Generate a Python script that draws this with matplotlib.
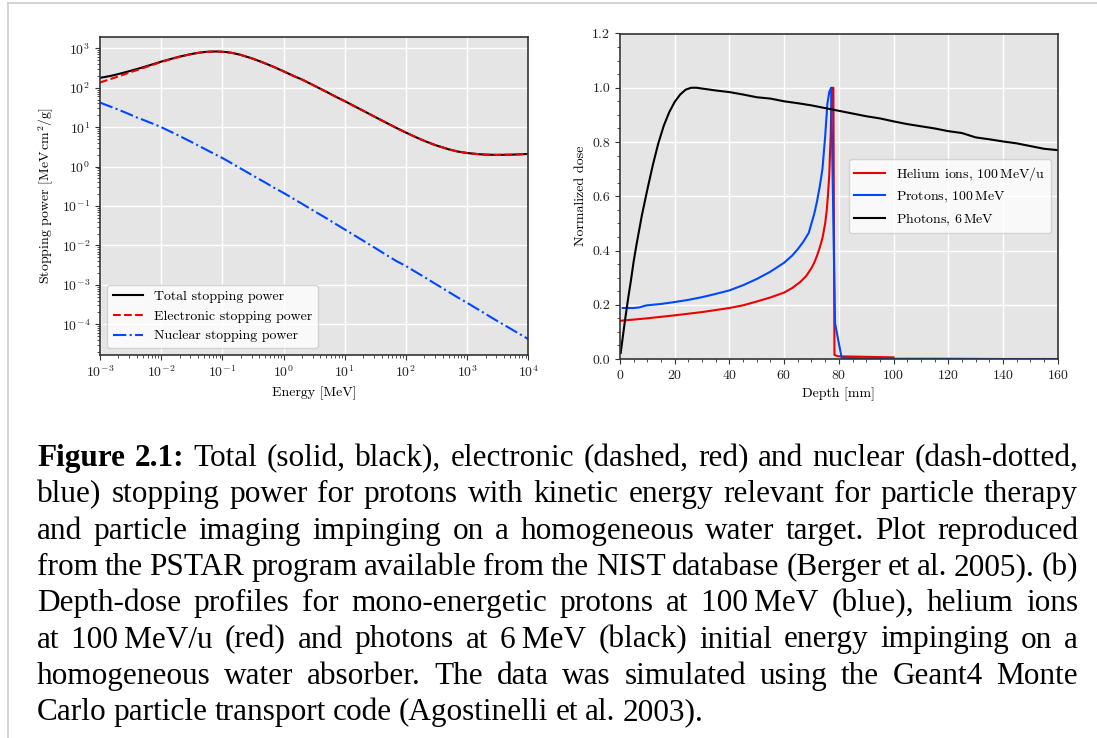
import numpy as np
import matplotlib
matplotlib.use("Agg")
from matplotlib import pyplot as plt
from matplotlib.lines import Line2D
from matplotlib.ticker import LogLocator, MultipleLocator, NullFormatter

# --- stopping power of protons in water (PSTAR), MeV cm^2/g ---
energy = [1e-3, 1.5e-3, 2e-3, 3e-3, 4e-3, 5e-3, 6e-3, 8e-3, 1e-2, 1.5e-2, 2e-2,
          3e-2, 4e-2, 5e-2, 6e-2, 7e-2, 8e-2, 9e-2, 0.1, 0.125, 0.15, 0.2, 0.3,
          0.4, 0.5, 0.7, 1, 1.5, 2, 3, 4, 5, 7, 10, 15, 20, 30, 50, 70, 100,
          150, 200, 300, 500, 700, 1000, 1500, 2000, 3000, 5000, 7000, 10000]
electronic = [136, 167, 195, 241, 280, 314, 345, 400, 450, 540, 610,
              705, 765, 800, 818, 826, 828, 824, 817, 790, 755, 680, 560,
              475, 415, 335, 261, 195, 162, 118, 94, 79, 60, 45.7, 32.9, 26.1,
              18.8, 12.45, 9.56, 7.29, 5.44, 4.49, 3.52, 2.74, 2.41, 2.21,
              2.07, 2.01, 1.98, 2.0, 2.04, 2.09]
nuclear = [42, 33, 27.8, 21.4, 17.6, 15.5, 13.8, 11.6, 10.0, 7.41, 5.95,
           4.34, 3.44, 2.87, 2.47, 2.19, 1.97, 1.79, 1.65, 1.36, 1.16, 0.89, 0.62,
           0.48, 0.395, 0.29, 0.215, 0.148, 0.114, 0.078, 0.060, 0.049, 0.0355,
           0.0254, 0.0173, 0.0132, 0.0090, 0.0055, 0.0040, 0.0030, 0.00205,
           0.00157, 0.00107, 6.6e-4, 4.8e-4, 3.5e-4, 2.4e-4, 1.83e-4, 1.25e-4,
           7.9e-5, 5.8e-5, 4.2e-5]
total = [178, 200, 222.8, 262.4, 297.6, 329.5, 358.8, 411.6, 460, 547.4, 616,
         709.3, 768.4, 802.9, 820.5, 828.2, 830, 825.8, 818.7, 791.4, 756.2,
         680.9, 560.6, 475.5, 415.4, 335.3, 261.2, 195.1, 162.1, 118.1, 94.06,
         79.05, 60.04, 45.73, 32.92, 26.11, 18.81, 12.46, 9.56, 7.29, 5.44,
         4.49, 3.52, 2.74, 2.41, 2.21, 2.07, 2.01, 1.98, 2.0, 2.04, 2.09]

# --- depth-dose profiles in water ---
depth_he = [0.3, 10, 20, 30, 40, 45, 50, 55, 60, 63, 66, 68, 70, 71, 72, 73,
            74, 75, 75.5, 76, 76.5, 77, 77.4, 78.0, 78.4, 79.7, 90, 100]
dose_he = [0.141, 0.150, 0.161, 0.173, 0.188, 0.198, 0.212, 0.227, 0.245,
           0.262, 0.285, 0.305, 0.335, 0.355, 0.380, 0.410, 0.445, 0.500,
           0.540, 0.600, 0.680, 0.820, 1.0, 1.0, 0.015, 0.010, 0.008, 0.006]

depth_p = [1, 3, 5, 7, 9, 10, 15, 20, 25, 30, 35, 40, 45, 50, 55, 60, 63, 65,
           67, 69, 70, 71, 72, 73, 74, 75, 75.8, 76.5, 77.2, 78.6, 81, 90, 100,
           120, 140, 160]
dose_p = [0.188, 0.188, 0.188, 0.190, 0.196, 0.198, 0.203, 0.210, 0.218,
          0.228, 0.240, 0.253, 0.272, 0.295, 0.322, 0.355, 0.382, 0.405,
          0.432, 0.465, 0.500, 0.535, 0.580, 0.635, 0.700, 0.820, 0.940,
          0.985, 1.0, 0.132, 0.005, 0.002, 0.001, 0.001, 0.0, 0.0]

depth_ph = [0.25, 1, 2, 3, 4, 5, 6, 8, 10, 12, 14, 16, 18, 20, 22, 24, 26, 28,
            30, 35, 40, 45, 50, 55, 60, 65, 70, 75, 80, 85, 90, 95, 100, 105,
            110, 115, 120, 125, 130, 135, 140, 145, 150, 155, 160]
dose_ph = [0.022, 0.08, 0.155, 0.225, 0.29, 0.36, 0.42, 0.53, 0.625, 0.715,
           0.795, 0.86, 0.91, 0.948, 0.975, 0.993, 1.0, 1.0, 0.997, 0.99,
           0.984, 0.975, 0.965, 0.96, 0.95, 0.943, 0.935, 0.925, 0.915, 0.905,
           0.895, 0.887, 0.876, 0.866, 0.858, 0.85, 0.84, 0.833, 0.817, 0.81,
           0.802, 0.795, 0.785, 0.775, 0.77]

caption = [
    ["Total", "(solid,", "black),", "electronic", "(dashed,", "red)", "and",
     "nuclear", "(dash-dotted,"],
    "blue) stopping power for protons with kinetic energy relevant for particle therapy".split(),
    "and particle imaging impinging on a homogeneous water target. Plot reproduced".split(),
    "from the PSTAR program available from the NIST database (Berger et al. 2005). (b)".split(),
    ["Depth-dose", "profiles", "for", "mono-energetic", "protons", "at",
     "100\u2009MeV", "(blue),", "helium", "ions"],
    ["at", "100\u2009MeV/u", "(red)", "and", "photons", "at", "6\u2009MeV",
     "(black)", "initial", "energy", "impinging", "on", "a"],
    "homogeneous water absorber.  The data was simulated using the Geant4 Monte".split(),
    "Carlo particle transport code (Agostinelli et al. 2003).".split(),
]

plt.rcParams['font.family'] = 'cmr10'
plt.rcParams['mathtext.fontset'] = 'cm'
plt.rcParams['axes.formatter.use_mathtext'] = True
plt.rcParams['axes.unicode_minus'] = False
plt.rcParams['font.size'] = 10

W, H = 1097, 738
fig = plt.figure(figsize=(W / 100, H / 100), dpi=100)

dark = '#333333'
blue = '#0047ff'


def style(ax):
    ax.set_facecolor('#e5e5e5')
    ax.grid(True, which='major', color='white', linewidth=1.0)
    ax.set_axisbelow(True)
    for s in ax.spines.values():
        s.set_color(dark)
        s.set_linewidth(1.2)
    ax.tick_params(which='both', colors=dark, labelcolor='#222222')


# left: stopping power
ax1 = fig.add_axes([100 / W, 1 - 355 / H, 428.3 / W, 318.3 / H])
style(ax1)
ax1.loglog(energy, total, color='black', lw=1.5, label='Total stopping power')
ax1.loglog(energy, electronic, color='#ee0000', lw=1.5, ls='--',
           label='Electronic stopping power')
ax1.loglog(energy, nuclear, color=blue, lw=1.5, ls='-.',
           label='Nuclear stopping power')
ax1.set_xlim(1e-3, 1e4)
ax1.set_ylim(10 ** -4.78, 10 ** 3.295)
ax1.xaxis.set_major_locator(LogLocator(base=10, numticks=20))
ax1.yaxis.set_major_locator(LogLocator(base=10, numticks=20))
ax1.xaxis.set_minor_locator(LogLocator(base=10, subs=np.arange(2, 10), numticks=40))
ax1.yaxis.set_minor_locator(LogLocator(base=10, subs=np.arange(2, 10), numticks=40))
ax1.xaxis.set_minor_formatter(NullFormatter())
ax1.yaxis.set_minor_formatter(NullFormatter())
ax1.set_xlabel('Energy [MeV]')
ax1.set_ylabel(r'Stopping power [MeV$\,$cm$^2$/g]')
ax1.legend(loc='lower left', fontsize=10, handlelength=2.2)

# right: depth dose
ax2 = fig.add_axes([620 / W, 1 - 359 / H, 437.7 / W, 325.5 / H])
style(ax2)
ax2.plot(depth_he, dose_he, color='#ee0000', lw=1.5,
         label=r'Helium ions, 100$\,$MeV/u')
ax2.plot(depth_p, dose_p, color=blue, lw=1.5, label=r'Protons, 100$\,$MeV')
ax2.plot(depth_ph, dose_ph, color='black', lw=1.5, label=r'Photons, 6$\,$MeV')
ax2.set_xlim(0, 160)
ax2.set_ylim(0, 1.2)
ax2.xaxis.set_major_locator(MultipleLocator(20))
ax2.xaxis.set_minor_locator(MultipleLocator(5))
ax2.yaxis.set_major_locator(MultipleLocator(0.2))
ax2.yaxis.set_minor_locator(MultipleLocator(0.05))
ax2.yaxis.set_major_formatter(plt.FormatStrFormatter('%.1f'))
ax2.set_xlabel('Depth [mm]')
ax2.set_ylabel('Normalized dose')
ax2.legend(loc='center right', fontsize=10, handlelength=2.2)

# page border
fig.add_artist(Line2D([8 / W, 8 / W], [0, 1 - 3 / H], color='#cccccc', lw=1.2,
                      transform=fig.transFigure))
fig.add_artist(Line2D([8 / W, 1], [1 - 3 / H, 1 - 3 / H], color='#cccccc', lw=1.2,
                      transform=fig.transFigure))

# caption, justified
cap_font = dict(family=['Liberation Serif', 'DejaVu Serif'], size=22.5,
                color='black', va='baseline')
renderer = fig.canvas.get_renderer()
x0, x1 = 37, 1078
y_first = 466
step = 36.3
for i, words in enumerate(caption):
    yb = 1 - (y_first + i * step) / H
    toks = []
    if i == 0:
        toks.append(fig.text(0, yb, 'Figure', fontweight='bold', **cap_font))
        toks.append(fig.text(0, yb, '2.1:', fontweight='bold', **cap_font))
    for w in words:
        toks.append(fig.text(0, yb, w, **cap_font))
    widths = [t.get_window_extent(renderer).width for t in toks]
    if i < len(caption) - 1:
        gap = (x1 - x0 - sum(widths)) / (len(toks) - 1)
    else:
        gap = 7
    x = x0
    for t, wd in zip(toks, widths):
        t.set_x(x / W)
        x += wd + gap

fig.savefig('out.png', dpi=100)
